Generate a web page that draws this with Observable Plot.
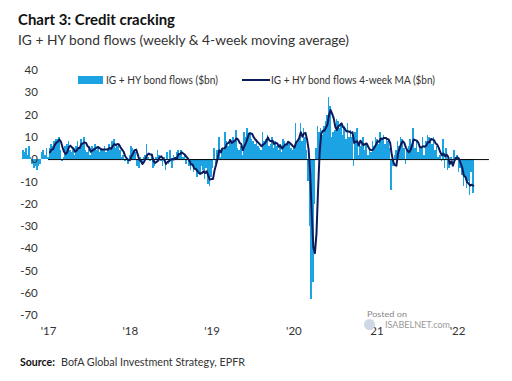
<!DOCTYPE html>
<html><head><meta charset="utf-8">
<script src="https://cdn.jsdelivr.net/npm/d3@7"></script>
<script src="https://cdn.jsdelivr.net/npm/@observablehq/plot@0.6"></script>
<style>
body{margin:0;background:#fff;}
#wrap{position:relative;width:512px;height:381px;overflow:hidden;font-family:Lato,"Open Sans",sans-serif;color:#222;}
.t{position:absolute;white-space:nowrap;transform-origin:0 50%;}
#chart{position:absolute;left:0;top:55px;}
</style></head><body><div id="wrap">
<div class="t" data-w="157" style="left:18px;top:11px;font-size:16px;line-height:16px;font-weight:700;color:#111">Chart 3: Credit cracking</div>
<div class="t" data-w="331" style="left:18px;top:33px;font-size:14px;line-height:14px;color:#333">IG + HY bond flows (weekly &amp; 4-week moving average)</div>
<div id="chart"></div>
<div style="position:absolute;left:78px;top:76px;width:25px;height:8px;background:#1ca3e4"></div>
<div class="t" data-w="112" style="left:106px;top:74px;font-size:11px;line-height:11px;color:#333">IG + HY bond flows ($bn)</div>
<div style="position:absolute;left:242px;top:79px;width:28px;height:2px;background:#0c1a5c"></div>
<div class="t" data-w="164" style="left:271px;top:74px;font-size:11px;line-height:11px;color:#333">IG + HY bond flows 4-week MA ($bn)</div>
<div class="t" data-w="40" style="left:367px;top:310px;font-size:8px;line-height:8px;color:#888">Posted on</div>
<div style="position:absolute;left:364px;top:319px;width:11px;height:11px;border-radius:50%;background:#cfd8e6"></div>
<div class="t" data-w="65" style="left:385px;top:320px;font-size:9px;line-height:9px;color:#999">ISABELNET.com</div>
<div class="t" data-w="35" style="left:20px;top:356px;font-size:11.5px;line-height:11.5px;font-weight:700;color:#111">Source:</div>
<div class="t" data-w="184" style="left:61px;top:356px;font-size:11.5px;line-height:11.5px;color:#333">BofA Global Investment Strategy, EPFR</div>
</div>
<script>
// Weekly IG + HY bond flows ($bn)
const flows2016 = [4,3,5,2,6,1,-2,-4,-3,-5,-3,-2,3,4,2,5,1];
const flows2017 = [5,7,6,8,9,9,10,4,-1,1,6,7,8,4,3,5,2,6,8,5,9,7,10,4,3,5,2,6,5,7,4,6,3,5,4,6,3,5,7,4,8,9,5,6,7,4,1,2,-1,0,-2,2];
const flows2018 = [6,5,4,3,-3,-4,1,-2,1,2,7,1,-1,2,-4,-3,1,4,2,-1,-3,1,-5,3,-2,4,-4,2,1,3,4,2,4,1,2,-2,1,-3,-5,-2,-6,-4,-8,-6,-7,-3,-5,-9,-4,-11,-12,-8];
const flows2019 = [-4,5,-2,4,10,1,5,4,12,8,6,9,7,10,8,13,5,4,6,2,12,10,14,11,12,9,8,7,9,6,5,4,12,8,9,11,6,7,10,5,8,6,4,7,3,9,8,7,8,7,5,4];
const flows2020 = [6,16,8,9,16,8,14,10,4,-10,-30,-63,-55,-20,5,15,12,14,11,15,17,20,28,24,10,12,13,18,17,14,16,11,15,9,16,10,13,10,-3,12,14,2,6,8,10,4,7,2,5,3,8,6,10];
const flows2021 = [9,7,12,9,11,7,10,8,5,-14,-3,2,4,8,6,10,9,5,-2,4,6,9,7,14,5,8,3,6,5,10,2,8,11,10,8,7,10,4,6,1,2,-1,9,-4,5,-5,-4,1,-3,4,1,2,-6,-4,-7,-12,-8,-13,-10,-16,-6,-15];
const firstWeek = 2016.692;          // decimal year of first weekly bar
const yearTicks = [2017,2018,2019,2020,2021,2022];
const yTicks = [40,30,20,10,0,-10,-20,-30,-40,-50,-60,-70];
const maStart = 2017;                // moving average shown from 2017
const zeroSpan = [2017, 2022.39];

const wk = 7/365.25;
const flows = [].concat(flows2016, flows2017, flows2018, flows2019, flows2020, flows2021);
const rows = flows.map((v, i) => ({x: firstWeek + i*wk, v}));

const chart = Plot.plot({
  width: 512, height: 290,
  marginLeft: 15.3, marginRight: 5.9, marginTop: 15, marginBottom: 30,
  x: {domain: [2016.6, 2022.6], label: null},
  y: {domain: [-70, 40], label: null},
  style: {fontFamily: "Lato, 'Open Sans', sans-serif", fontSize: "11.5px", color: "#333", background: "transparent", overflow: "visible"},
  marks: [
    Plot.rect(rows, {x1: d => d.x - wk/2, x2: d => d.x + wk/2, y1: 0, y2: "v", fill: "#1ca3e4", shapeRendering: "crispEdges"}),
    Plot.ruleY([0], {x1: () => zeroSpan[0], x2: () => zeroSpan[1], stroke: "#000", strokeWidth: 1}),
    Plot.lineY(rows, Plot.filter(d => d.x >= maStart, Plot.windowY({k: 4, anchor: "end"}, {x: "x", y: "v", stroke: "#0c1a5c", strokeWidth: 2, strokeLinejoin: "round"}))),
    Plot.axisY({ticks: yTicks, tickFormat: d => String(d), tickSize: 0, tickPadding: 3, dx: 25, label: null}),
    Plot.axisX({ticks: yearTicks, tickFormat: d => "'" + String(d).slice(2), tickSize: 0, tickPadding: 11, label: null})
  ]
});
document.getElementById("chart").appendChild(chart);

document.querySelectorAll("[data-w]").forEach(el => {
  const w = el.getBoundingClientRect().width;
  if (w > 0) el.style.transform = `scaleX(${(+el.dataset.w) / w})`;
});
</script>
</body></html>
